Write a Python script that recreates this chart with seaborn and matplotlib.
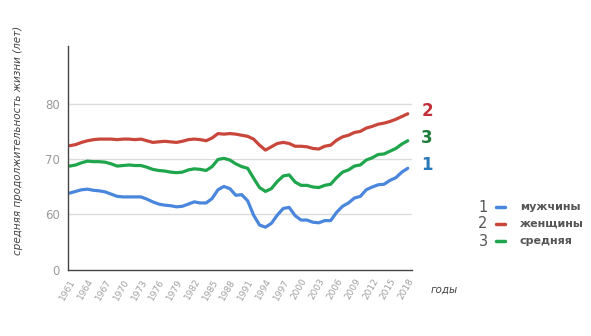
import numpy as np
import pandas as pd
import matplotlib
matplotlib.use("Agg")
import matplotlib.pyplot as plt
import seaborn as sns

# Life expectancy in Russia, 1961–2018
years = list(range(1961, 2019))

men = [63.8, 64.1, 64.4, 64.5, 64.3, 64.2, 64.0, 63.6, 63.2, 63.1,
       63.1, 63.1, 63.1, 62.7, 62.2, 61.8, 61.6, 61.5, 61.3, 61.4,
       61.8, 62.2, 62.0, 62.0, 62.8, 64.4, 65.0, 64.6, 63.4, 63.5,
       62.4, 59.8, 58.0, 57.6, 58.3, 59.8, 61.0, 61.2, 59.7, 58.9,
       58.9, 58.5, 58.4, 58.8, 58.8, 60.3, 61.4, 62.0, 62.9, 63.2,
       64.4, 64.9, 65.3, 65.4, 66.1, 66.6, 67.6, 68.3]

women = [72.4, 72.6, 73.0, 73.3, 73.5, 73.6, 73.6, 73.6, 73.5, 73.6,
         73.6, 73.5, 73.6, 73.3, 73.0, 73.1, 73.2, 73.1, 73.0, 73.2,
         73.5, 73.6, 73.5, 73.3, 73.8, 74.6, 74.5, 74.6, 74.5, 74.3,
         74.1, 73.6, 72.5, 71.6, 72.2, 72.8, 73.0, 72.8, 72.3, 72.3,
         72.2, 71.9, 71.8, 72.3, 72.5, 73.4, 74.0, 74.3, 74.8, 75.0,
         75.6, 75.9, 76.3, 76.5, 76.8, 77.2, 77.7, 78.2]

average = [68.7, 68.9, 69.3, 69.6, 69.5, 69.5, 69.4, 69.1, 68.7, 68.8,
           68.9, 68.8, 68.8, 68.5, 68.1, 67.9, 67.8, 67.6, 67.5, 67.6,
           68.0, 68.2, 68.1, 67.9, 68.6, 69.9, 70.1, 69.8, 69.1, 68.6,
           68.3, 66.5, 64.8, 64.1, 64.6, 65.9, 66.9, 67.1, 65.8, 65.2,
           65.2, 64.9, 64.8, 65.2, 65.4, 66.6, 67.6, 68.0, 68.7, 68.9,
           69.8, 70.2, 70.8, 70.9, 71.4, 71.9, 72.7, 73.3]

series_names = ["мужчины", "женщины", "средняя"]
series_numbers = ["1", "2", "3"]
x_tick_years = list(range(1961, 2019, 3))
y_ticks = [60, 70, 80]

line_colors = ["#4a86dc", "#c9463b", "#1fa54b"]
number_colors = ["#2a79b8", "#c2303a", "#1f7d3c"]

sns.set_style("white")
plt.rcParams["font.family"] = ["DejaVu Sans"]

fig = plt.figure(figsize=(5.91, 3.36), dpi=100)
ax = fig.add_axes([0.115, 0.196, 0.582, 0.667])

df = pd.DataFrame({"год": years * 3,
                   "значение": men + women + average,
                   "ряд": np.repeat(series_names, len(years))})

for name, col in zip(series_names, line_colors):
    sub = df[df["ряд"] == name]
    sns.lineplot(data=sub, x="год", y="значение", ax=ax, color=col,
                 linewidth=2.3, solid_capstyle="round", legend=False)

# broken axis: the bottom of the visible range is labelled as zero
y_bottom = 49.8
ax.set_ylim(y_bottom, 90.5)
ax.set_xlim(1960.7, 2018.7)
ax.set_yticks([y_bottom] + y_ticks)
ax.set_yticklabels(["0"] + [str(t) for t in y_ticks])
for t in y_ticks:
    ax.axhline(t, color="#dcdcdc", linewidth=1.0, zorder=0)

ax.set_xticks(x_tick_years)
ax.set_xticklabels([str(y) for y in x_tick_years], rotation=60,
                   ha="right", rotation_mode="anchor", fontsize=6.5,
                   color="#a0a0a0")
ax.tick_params(axis="y", labelsize=8.5, colors="#9a9a9a", length=0, pad=6)
ax.tick_params(axis="x", length=0, pad=5)

for s in ["top", "right"]:
    ax.spines[s].set_visible(False)
for s in ["left", "bottom"]:
    ax.spines[s].set_color("#444444")
    ax.spines[s].set_linewidth(1.0)

ax.set_xlabel("")
ax.set_ylabel("средняя продолжительность жизни (лет)", fontsize=7.5,
              style="italic", color="#444444")
ax.yaxis.set_label_coords(-0.13, 0.58)

# numbers at the line ends
fig.text(427 / 591, 1 - 111 / 336, "2", color=number_colors[1],
         fontsize=12, fontweight="bold", ha="center", va="center")
fig.text(427 / 591, 1 - 138 / 336, "3", color=number_colors[2],
         fontsize=12, fontweight="bold", ha="center", va="center")
fig.text(427 / 591, 1 - 165 / 336, "1", color=number_colors[0],
         fontsize=12, fontweight="bold", ha="center", va="center")

fig.text(444 / 591, 1 - 290 / 336, "годы", fontsize=7.5, style="italic",
         color="#444444", ha="center", va="center")

# legend block
rows_y = [207, 224, 241]
for num, name, col, yy in zip(series_numbers, series_names, line_colors, rows_y):
    fy = 1 - yy / 336
    fig.text(483 / 591, fy, num, fontsize=10.5, color="#555555",
             ha="center", va="center")
    fig.add_artist(plt.Line2D([496 / 591, 505 / 591], [fy, fy],
                              color=col, linewidth=2.5,
                              transform=fig.transFigure))
    fig.text(520 / 591, fy, name, fontsize=8, fontweight="bold",
             color="#555555", ha="left", va="center")

fig.savefig("out.png", dpi=100, facecolor="white")
